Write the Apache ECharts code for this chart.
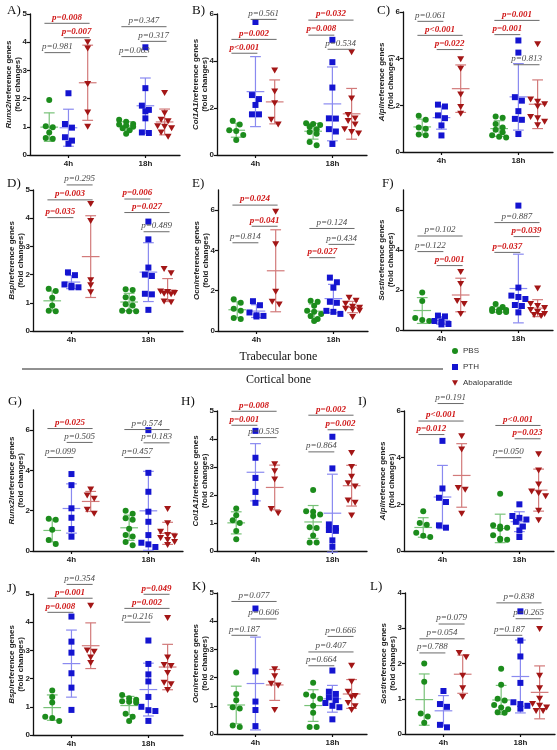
<!DOCTYPE html>
<html><head><meta charset="utf-8">
<script src="https://cdn.jsdelivr.net/npm/echarts@6/dist/echarts.min.js"></script>
<style>html,body{margin:0;padding:0;background:#fff}#c{width:557px;height:750px}</style>
</head><body><div id="c"></div>
<script>
// ---------- DATA ----------
const groupNames = ['PBS', 'PTH', 'Abaloparatide'];
const timeLabels = ['4h', '18h'];
const panelLetters = ['A)', 'B)', 'C)', 'D)', 'E)', 'F)', 'G)', 'H)', 'I)', 'J)', 'K)', 'L)'];
const genes = ['Runx2', 'Col1A1', 'Alpl', 'Bsp', 'Ocn', 'Sost', 'Runx2', 'Col1A1', 'Alpl', 'Bsp', 'Ocn', 'Sost'];
const yMaxes = [5, 6, 6, 5, 7, 7, 7, 5, 6, 5, 5, 4];
const ySteps = [1, 2, 2, 1, 2, 2, 2, 1, 2, 1, 1, 1];
const sectionTitles = ['Trabecular bone', 'Cortical bone'];

// values per group: [PBS, PTH, Abaloparatide]
const panelA_4h  = [[1.95,1.02,0.98,0.8,0.6,0.58],[2.19,1.1,0.97,0.63,0.51,0.4],[4.0,3.78,2.52,1.51,1.0]];
const panelA_18h = [[1.25,1.18,1.1,1.08,1.05,1.0,0.95,0.88,0.75],[3.82,2.37,1.75,1.6,1.55,1.3,0.8,0.78],[2.2,1.48,1.25,1.2,1.02,1.0,0.95,0.8,0.65]];
const panelB_4h  = [[1.46,1.3,1.05,1.02,0.85,0.64],[5.66,2.55,2.38,2.13,1.73,1.73],[3.6,2.7,2.2,1.5,1.3]];
const panelB_18h = [[1.35,1.32,1.28,1.2,1.1,0.98,0.9,0.55,0.42],[4.9,3.95,2.87,1.56,1.55,1.1,1.0,0.47],[4.37,2.4,1.7,1.55,1.45,1.3,1.1,0.98,0.92]];
const panelC_4h  = [[1.55,1.38,1.05,1.0,0.75,0.72],[2.03,1.95,1.57,1.45,1.14,0.71],[3.97,3.57,2.46,1.93,1.64]];
const panelC_18h = [[1.52,1.47,1.2,1.05,0.95,0.85,0.72,0.65,0.62],[4.78,4.26,2.35,2.2,1.75,1.42,1.38,0.77],[4.62,2.25,2.15,2.05,1.95,1.5,1.45,1.3,1.15]];
const panelD_4h  = [[1.5,1.42,1.18,0.9,0.72,0.7],[2.08,1.98,1.65,1.6,1.55,1.55],[4.5,3.9,1.8,1.62,1.37]];
const panelD_18h = [[1.48,1.45,1.2,1.15,0.95,0.9,0.72,0.7,0.7],[3.88,3.25,2.25,2.0,1.95,1.32,1.3,0.75],[2.2,2.05,1.4,1.38,1.35,1.32,1.3,1.05,1.02]];
const panelE_4h  = [[1.58,1.4,1.1,1.0,0.65,0.6],[1.48,1.28,0.92,0.78,0.75,0.72],[5.92,4.31,1.95,1.45,1.32]];
const panelE_18h = [[1.5,1.45,1.25,1.0,0.95,0.85,0.75,0.6,0.5],[2.65,2.42,2.15,1.45,1.4,1.0,0.95,0.85],[1.65,1.5,1.35,1.2,1.15,1.1,1.05,1.0,0.7]];
const panelF_4h  = [[1.87,1.45,0.6,0.5,0.45],[0.72,0.68,0.45,0.42,0.3,0.28],[2.9,2.3,1.45,1.3,0.8]];
const panelF_18h = [[1.3,1.15,1.05,1.0,1.0,0.95,0.92,0.9,0.9],[6.22,2.12,1.72,1.65,1.55,1.25,1.2,0.88],[2.08,1.3,1.2,1.1,1.0,0.9,0.8,0.75,0.7]];
const panelG_4h  = [[1.6,1.55,1.05,0.55,0.35],[3.82,3.27,2.12,1.65,1.09,0.71],[3.05,2.75,2.6,2.05,1.85]];
const panelG_18h = [[2.0,1.85,1.62,1.55,1.1,0.8,0.72,0.45,0.28],[6.0,3.88,2.94,1.95,1.45,0.79,0.41,0.33,0.2],[2.08,1.38,0.95,0.8,0.72,0.65,0.55,0.45,0.3]];
const panelH_4h  = [[1.52,1.28,1.1,1.0,0.71,0.42],[4.29,3.33,2.61,2.11,1.72],[3.1,2.85,2.55,1.5,1.35]];
const panelH_18h = [[2.18,1.42,1.4,1.3,1.25,0.85,0.82,0.55,0.3,0.3],[4.08,2.95,0.95,0.82,0.75,0.72,0.38,0.15],[3.5,3.0,2.65,2.42,2.3,1.8,1.72,1.27]];
const panelI_4h  = [[1.7,1.2,1.12,0.78,0.65,0.6],[4.72,2.68,2.28,2.1,1.1,1.0],[4.92,4.35,2.7,2.62,1.6]];
const panelI_18h = [[2.45,1.1,1.05,1.0,0.95,0.68,0.52,0.48,0.48],[2.0,1.5,1.42,1.35,1.25,1.05,0.88,0.6],[4.15,3.45,2.85,2.55,2.48,2.35,1.72,1.32]];
const panelJ_4h  = [[1.58,1.35,1.15,0.65,0.6,0.5],[4.2,3.31,2.92,2.19,1.68,0.89],[4.58,3.0,2.95,2.75,2.55]];
const panelJ_18h = [[1.42,1.3,1.25,1.2,1.18,1.15,0.75,0.65,0.5],[3.35,2.52,2.15,1.9,1.35,1.0,0.88,0.85,0.5],[4.15,2.75,2.48,2.45,2.2,1.85,1.8,1.6]];
const panelK_4h  = [[2.18,1.42,1.2,0.95,0.9,0.3,0.25],[4.45,2.22,1.15,0.85,0.28],[2.3,2.05,1.78,1.72,0.85]];
const panelK_18h = [[1.82,1.4,1.35,1.25,1.0,0.75,0.25,0.25],[2.25,1.5,1.42,1.3,1.2,1.1,1.0,0.95,0.52],[2.42,1.85,1.5,1.35,1.3,1.1,0.98,0.85]];
const panelL_4h  = [[2.0,1.48,0.58,0.5,0.32],[1.22,0.85,0.77,0.26,0.19],[2.3,2.18,1.65,1.3,1.05]];
const panelL_18h = [[1.85,1.4,1.0,0.95,0.82,0.75,0.7,0.62,0.6],[3.48,2.65,2.2,1.45,0.9,0.85,0.8,0.72],[2.98,1.65,1.3,1.0,0.85,0.8,0.75,0.65,0.65]];

// comparisons: [group a, group b, bracket height, label]; groups 0-2 = 4h, 3-5 = 18h
const panelA_p = [[0,1,3.63,'p=0.981'],[0,2,4.67,'p=0.008'],[1,2,4.16,'p=0.007'],[3,5,4.55,'p=0.347'],[4,5,4.03,'p=0.317'],[3,4,3.49,'p=0.063']];
const panelB_p = [[1,2,5.77,'p=0.561'],[0,2,4.92,'p=0.002'],[0,1,4.33,'p<0.001'],[3,5,5.74,'p=0.032'],[3,4,5.1,'p=0.008'],[4,5,4.5,'p=0.534']];
const panelC_p = [[0,1,5.6,'p=0.061'],[0,2,5.0,'p<0.001'],[1,2,4.39,'p=0.022'],[3,5,5.64,'p=0.001'],[3,4,5.03,'p=0.001'],[4,5,3.74,'p=0.813']];
const panelD_p = [[1,2,5.18,'p=0.295'],[0,2,4.65,'p=0.003'],[0,1,4.02,'p=0.035'],[3,4,4.68,'p=0.006'],[3,5,4.2,'p=0.027'],[4,5,3.52,'p=0.489']];
const panelE_p = [[0,2,6.25,'p=0.024'],[1,2,5.2,'p=0.041'],[0,1,4.38,'p=0.814'],[3,5,5.09,'p=0.124'],[4,5,4.3,'p=0.434'],[3,4,3.64,'p=0.027']];
const panelF_p = [[0,2,4.7,'p=0.102'],[0,1,3.92,'p=0.122'],[1,2,3.22,'p=0.001'],[3,5,5.37,'p=0.887'],[4,5,4.67,'p=0.039'],[3,4,3.88,'p=0.037']];
const panelG_p = [[0,2,6.08,'p=0.025'],[1,2,5.39,'p=0.505'],[0,1,4.64,'p=0.099'],[3,5,6.03,'p=0.574'],[4,5,5.37,'p=0.183'],[3,4,4.64,'p=0.457']];
const panelH_p = [[0,2,4.99,'p=0.008'],[0,1,4.49,'p=0.001'],[1,2,4.05,'p=0.535'],[3,5,4.85,'p=0.002'],[4,5,4.33,'p=0.002'],[3,4,3.54,'p=0.864']];
const panelI_p = [[1,2,6.32,'p=0.191'],[0,2,5.57,'p<0.001'],[0,1,4.99,'p=0.012'],[3,5,5.38,'p<0.001'],[4,5,4.81,'p=0.023'],[3,4,4.0,'p=0.050']];
const panelJ_p = [[1,2,5.34,'p=0.354'],[0,2,4.85,'p=0.001'],[0,1,4.35,'p=0.008'],[4,5,4.99,'p=0.049'],[3,5,4.49,'p=0.002'],[3,4,4.0,'p=0.216']];
const panelK_p = [[0,2,4.7,'p=0.077'],[1,2,4.08,'p=0.606'],[0,1,3.5,'p=0.187'],[4,5,3.46,'p=0.666'],[3,5,2.91,'p=0.407'],[3,4,2.42,'p=0.664']];
const panelL_p = [[1,2,3.12,'p=0.079'],[0,2,2.7,'p=0.054'],[0,1,2.3,'p=0.788'],[3,5,3.72,'p=0.838'],[4,5,3.27,'p=0.265'],[3,4,2.8,'p=0.187']];

// ---------- LAYOUT / STYLE ----------
const data4h  = [panelA_4h,panelB_4h,panelC_4h,panelD_4h,panelE_4h,panelF_4h,panelG_4h,panelH_4h,panelI_4h,panelJ_4h,panelK_4h,panelL_4h];
const data18h = [panelA_18h,panelB_18h,panelC_18h,panelD_18h,panelE_18h,panelF_18h,panelG_18h,panelH_18h,panelI_18h,panelJ_18h,panelK_18h,panelL_18h];
const pvals   = [panelA_p,panelB_p,panelC_p,panelD_p,panelE_p,panelF_p,panelG_p,panelH_p,panelI_p,panelJ_p,panelK_p,panelL_p];

const gridBox = [[30,14,141],[217,14,141],[403,12,140],[33,190,141],[218,190,141],[403,190,140],
                 [33,410,141],[217,411,140],[404,411,140],[33,594,141],[217,593,141],[405,593,141]];
const letterBox = [[7,4],[192,4],[377,4],[7,177],[192,177],[382,177],[8,395],[181,395],[358,395],[7,582],[192,580],[370,580]];
const GW = 150, XMAX = 7.8;
const XPOS = [1,2,3,5,6,7];
const COL = ['#1c8c1c','#1414d0','#a31616'];
const ERR = ['#78c278','#8a8af0','#d27a7a'];
const SYM = ['circle','rect','path://M0,0L10,0L5,9Z'];
const SYMSIZE = [6,6,[7,6]];
const SANS = 'Liberation Sans', SERIF = 'Liberation Serif';

function mean(a){return a.reduce((s,v)=>s+v,0)/a.length;}
function sd(a){const m=mean(a);return Math.sqrt(a.reduce((s,v)=>s+(v-m)*(v-m),0)/(a.length-1));}

// simple swarm placement so overlapping points spread sideways
function swarm(vals, center, ymax, hPx){
  const pxY = hPx/ymax, pxX = GW/XMAX, step = 7/pxX;
  const sorted = vals.slice().sort((a,b)=>b-a);
  const rows = [];
  sorted.forEach(v=>{
    const r = rows[rows.length-1];
    if (r && (r[0]-v)*pxY < 5 && r.length < 3) r.push(v); else rows.push([v]);
  });
  const out = [];
  rows.forEach(r=>{
    const n = r.length;
    r.forEach((v,k)=>{ out.push([center + (k-(n-1)/2)*step, v]); });
  });
  return out;
}

const grids=[], xAxes=[], yAxes=[], series=[], graphics=[];
for (let i=0;i<12;i++){
  const [gl,gt,gh] = gridBox[i];
  const ymax = yMaxes[i], ystep = ySteps[i];
  grids.push({left:gl, top:gt, width:GW, height:gh, containLabel:false});
  xAxes.push({type:'value', gridIndex:i, min:0, max:XMAX,
    axisLine:{show:true, lineStyle:{color:'#111', width:1.3}},
    axisTick:{show:true, customValues:[2,6], length:3, lineStyle:{color:'#111', width:1.2}},
    axisLabel:{customValues:[2,6], formatter:v=> v<4?timeLabels[0]:timeLabels[1], fontSize:8, fontWeight:'bold', color:'#222', fontFamily:SANS, margin:5},
    splitLine:{show:false}});
  const ticks=[]; for(let t=0;t<=ymax+1e-9;t+=ystep) ticks.push(t);
  yAxes.push({type:'value', gridIndex:i, min:0, max:ymax,
    axisLine:{show:true, lineStyle:{color:'#111', width:1.3}},
    axisTick:{show:true, customValues:ticks, length:3, lineStyle:{color:'#111', width:1.2}},
    axisLabel:{customValues:ticks, fontSize:8, fontWeight:'bold', color:'#222', fontFamily:SANS, margin:3},
    splitLine:{show:false},
    name:'{i|'+genes[i]+'}{n|/reference genes}\n{n|(fold changes)}',
    nameLocation:'middle', nameRotate:90, nameGap:8, nameMoveOverlap:false,
    nameTextStyle:{rich:{
      i:{fontFamily:SANS, fontSize:8, fontWeight:'bold', fontStyle:'italic', color:'#222', lineHeight:8.5},
      n:{fontFamily:SANS, fontSize:8, fontWeight:'bold', color:'#222', lineHeight:8.5}}}
  });
  // error bars (mean ± SD)
  const errData=[];
  [data4h[i], data18h[i]].forEach((td,t)=>{
    td.forEach((vals,g)=>{ errData.push([XPOS[t*3+g], mean(vals), sd(vals), g]); });
  });
  series.push({type:'custom', xAxisIndex:i, yAxisIndex:i, clip:false, z:2, silent:true, data:errData,
    renderItem:function(params, api){
      const x=api.value(0), m=api.value(1), s=api.value(2), g=api.value(3);
      const pm=api.coord([x,m]), pt=api.coord([x,m+s]), pb=api.coord([x,m-s]);
      const w1=api.size([0.46,0])[0], w2=api.size([0.28,0])[0];
      const st={stroke:ERR[g], lineWidth:1.2};
      return {type:'group', children:[
        {type:'line', shape:{x1:pm[0],y1:pt[1],x2:pm[0],y2:pb[1]}, style:st},
        {type:'line', shape:{x1:pm[0]-w1,y1:pm[1],x2:pm[0]+w1,y2:pm[1]}, style:st},
        {type:'line', shape:{x1:pm[0]-w2,y1:pt[1],x2:pm[0]+w2,y2:pt[1]}, style:st},
        {type:'line', shape:{x1:pm[0]-w2,y1:pb[1],x2:pm[0]+w2,y2:pb[1]}, style:st}
      ]};
    }});
  // points
  for (let g=0; g<3; g++){
    const pts = swarm(data4h[i][g], XPOS[g], ymax, gh).concat(swarm(data18h[i][g], XPOS[3+g], ymax, gh));
    series.push({type:'scatter', name:groupNames[g], xAxisIndex:i, yAxisIndex:i, z:3,
      symbol:SYM[g], symbolSize:SYMSIZE[g], itemStyle:{color:COL[g], opacity:1}, data:pts, silent:true});
  }
  // significance brackets
  const plist = pvals[i];
  series.push({type:'custom', xAxisIndex:i, yAxisIndex:i, clip:false, z:4, silent:true,
    data: plist.map(b=>[XPOS[b[0]], b[2]]),
    renderItem:function(params, api){
      const b = plist[params.dataIndex];
      const p1=api.coord([XPOS[b[0]]-0.25, b[2]]), p2=api.coord([XPOS[b[1]]+0.1, b[2]]);
      const num = parseFloat(b[3].replace(/[^0-9.]/g,''));
      const sig = b[3].indexOf('<')>=0 || num < 0.05;
      return {type:'group', children:[
        {type:'line', shape:{x1:p1[0],y1:p1[1],x2:p2[0],y2:p2[1]}, style:{stroke:'#6a6a6a', lineWidth:1}},
        {type:'text', x:(p1[0]+p2[0])/2, y:p1[1]-1.5, style:{text:b[3], textAlign:'center', textVerticalAlign:'bottom',
          fill: sig?'#d01818':'#4a4a4a', font:(sig?'italic bold ':'italic ')+'9px "'+SERIF+'"'}}
      ]};
    }});
  graphics.push({type:'text', left:letterBox[i][0], top:letterBox[i][1],
    style:{text:panelLetters[i], font:'13px "'+SERIF+'"', fill:'#111'}});
}
graphics.push({type:'text', left:'center', top:351, style:{text:sectionTitles[0], font:'12px "'+SERIF+'"', fill:'#111'}});
graphics.push({type:'line', shape:{x1:22,y1:369,x2:443,y2:369}, style:{stroke:'#222', lineWidth:1}});
graphics.push({type:'text', left:'center', top:374, style:{text:sectionTitles[1], font:'12px "'+SERIF+'"', fill:'#111'}});

const chart = echarts.init(document.getElementById('c'), null, {renderer:'canvas'});
chart.setOption({
  animation:false,
  backgroundColor:'#fff',
  textStyle:{fontFamily:SANS},
  legend:{data:groupNames, orient:'vertical', left:452, top:347, itemWidth:6, itemHeight:6, itemGap:8, padding:0,
    selectedMode:false, textStyle:{fontSize:8, color:'#333', fontFamily:SANS}},
  grid:grids, xAxis:xAxes, yAxis:yAxes, series:series, graphic:graphics
});
</script></body></html>
